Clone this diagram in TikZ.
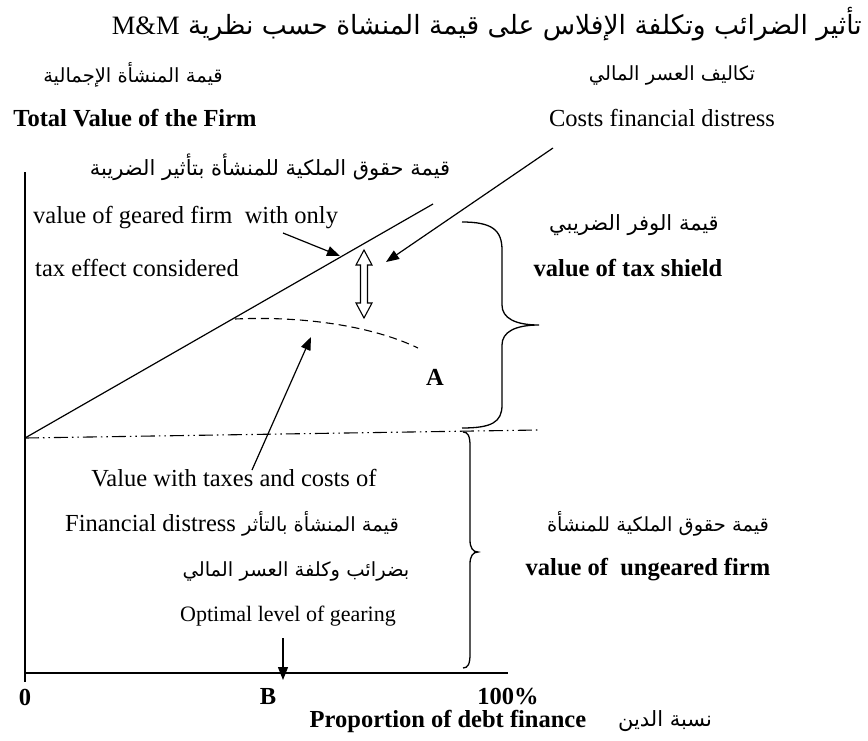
\documentclass[tikz,border=0pt]{standalone}
\usepackage{fontspec}
\setmainfont{Liberation Serif}
\newfontfamily\enfont{Liberation Serif}
\newfontfamily\arabicfont[Script=Arabic]{DejaVu Sans}
\TeXXeTstate=1
\usetikzlibrary{arrows.meta}
\begin{document}
\begin{tikzpicture}[x=1pt,y=-1pt,
  en/.style={font=\enfont\fontsize{24.5}{28}\selectfont, inner sep=0pt},
  enb/.style={font=\enfont\fontsize{24.5}{28}\selectfont\bfseries, inner sep=0pt},
  ensm/.style={font=\enfont\fontsize{22}{26}\selectfont, inner sep=0pt},
  ar/.style={font=\arabicfont\fontsize{19.5}{24}\selectfont, inner sep=0pt},
  arbig/.style={font=\arabicfont\fontsize{21}{26}\selectfont, inner sep=0pt},
  artitle/.style={font=\arabicfont\fontsize{26.5}{32}\selectfont, inner sep=0pt},
  axisline/.style={line width=1.5pt},
  plotline/.style={line width=1.2pt},
  pointer/.style={line width=1.2pt, -{Triangle[length=13pt,width=10pt]}},
  bracepath/.style={line width=1.3pt},
]
\useasboundingbox (0,0) rectangle (868,740);

% ---------- texts ----------
\node[artitle, anchor=east] (title) at (862,24)
  {\beginR تأثير الضرائب وتكلفة الإفلاس على قيمة المنشاة حسب نظرية \beginL{\enfont M\&M}\endL\endR};
\node[ar] (artotal) at (133,75) {\beginR قيمة المنشأة الإجمالية\endR};
\node[ar] (arcosts) at (672,75) {\beginR تكاليف العسر المالي\endR};
\node[enb] (entotal) at (135,118) {Total Value of the Firm};
\node[en] (encosts) at (662,118) {Costs financial distress};
\node[arbig] (argeared) at (270,167) {\beginR قيمة حقوق الملكية للمنشأة بتأثير الضريبة\endR};
\node[en, anchor=west] (geared1) at (33,218) {value of geared firm\ \ with only};
\node[en, anchor=west] (geared2) at (35,268) {tax effect considered};
\node[arbig] (arshield) at (634,225) {\beginR قيمة الوفر الضريبي\endR};
\node[enb] (shield) at (628,268) {value of tax shield};
\node[enb] (lblA) at (435,377) {A};
\node[en] (vt1) at (234,478) {Value with taxes and costs\ of};
\node[en] (vt2) at (232,524) {Financial distress {\arabicfont\fontsize{19.5}{24}\selectfont\beginR قيمة المنشأة بالتأثر\endR}};
\node[ar] (vt3) at (296,571) {\beginR بضرائب وكلفة العسر المالي\endR};
\node[ensm] (optimal) at (288,616) {Optimal level of gearing};
\node[ar] (arungeared) at (658,524) {\beginR قيمة حقوق الملكية للمنشأة\endR};
\node[enb] (ungeared) at (648,570) {value of\ \ ungeared firm};
\node[enb] (zero) at (25,697) {0};
\node[enb] (lblB) at (268,697) {B};
\node[enb] (hundred) at (508,697) {100\%};
\node[enb] (proportion) at (448,721) {Proportion of debt finance};
\node[arbig] (ardebt) at (665,721) {\beginR نسبة الدين\endR};

% ---------- coordinates ----------
\coordinate (origin) at (25,673);
\coordinate (ytop) at (25,172);
\coordinate (ybottom) at (25,682);
\coordinate (xend) at (508,673);
\coordinate (base0) at (25,438);
\coordinate (base1) at (538,430);
\coordinate (taxend) at (433,204);
\coordinate (costtop) at (553,148);
\coordinate (costtip) at (386,262);
\coordinate (gearedtail) at (283,233);
\coordinate (gearedtip) at (340,256);
\coordinate (curvestart) at (235,319);
\coordinate (curveend) at (418,348);
\coordinate (curvetail) at (252,470);
\coordinate (curvetip) at (311,337);
\coordinate (optimaltail) at (283,638);
\coordinate (optimaltip) at (283,680);

% ---------- axes ----------
\draw[axisline] (ytop) -- (ybottom);
\draw[axisline] (origin) -- (xend);

% ---------- value lines ----------
\draw[plotline] (base0) -- (taxend);
\draw[line width=1.1pt, dash pattern=on 14pt off 4pt on 1.5pt off 4pt on 1.5pt off 4pt] (base0) -- (base1);
\draw[line width=1.1pt, dash pattern=on 8pt off 5pt] (curvestart) .. controls (300,316) and (370,325) .. (curveend);

% ---------- pointers ----------
\draw[pointer] (costtop) -- (costtip);
\draw[pointer] (gearedtail) -- (gearedtip);
\draw[pointer] (curvetail) -- (curvetip);
\draw[pointer] (optimaltail) -- (optimaltip);

% ---------- hollow double arrow ----------
\draw[line width=1.1pt, fill=white] (364,250) -- (372,265) -- (367.5,265) -- (367.5,303) -- (372,303) -- (364,318)
  -- (356,303) -- (360.5,303) -- (360.5,265) -- (356,265) -- cycle;

% ---------- braces ----------
\draw[bracepath] (462,222) .. controls (492,222) and (502,230) .. (502,250) -- (502,305)
  .. controls (502,318) and (515,325) .. (539,325) .. controls (515,325) and (502,332) .. (502,345)
  -- (502,405) .. controls (502,422) and (492,428) .. (462,428);
\draw[bracepath] (463,432) .. controls (468,432) and (470,436) .. (470,446) -- (470,540)
  .. controls (470,548) and (473,552) .. (478,552) .. controls (473,552) and (470,556) .. (470,564)
  -- (470,654) .. controls (470,664) and (468,668) .. (463,668);
\end{tikzpicture}
\end{document}
